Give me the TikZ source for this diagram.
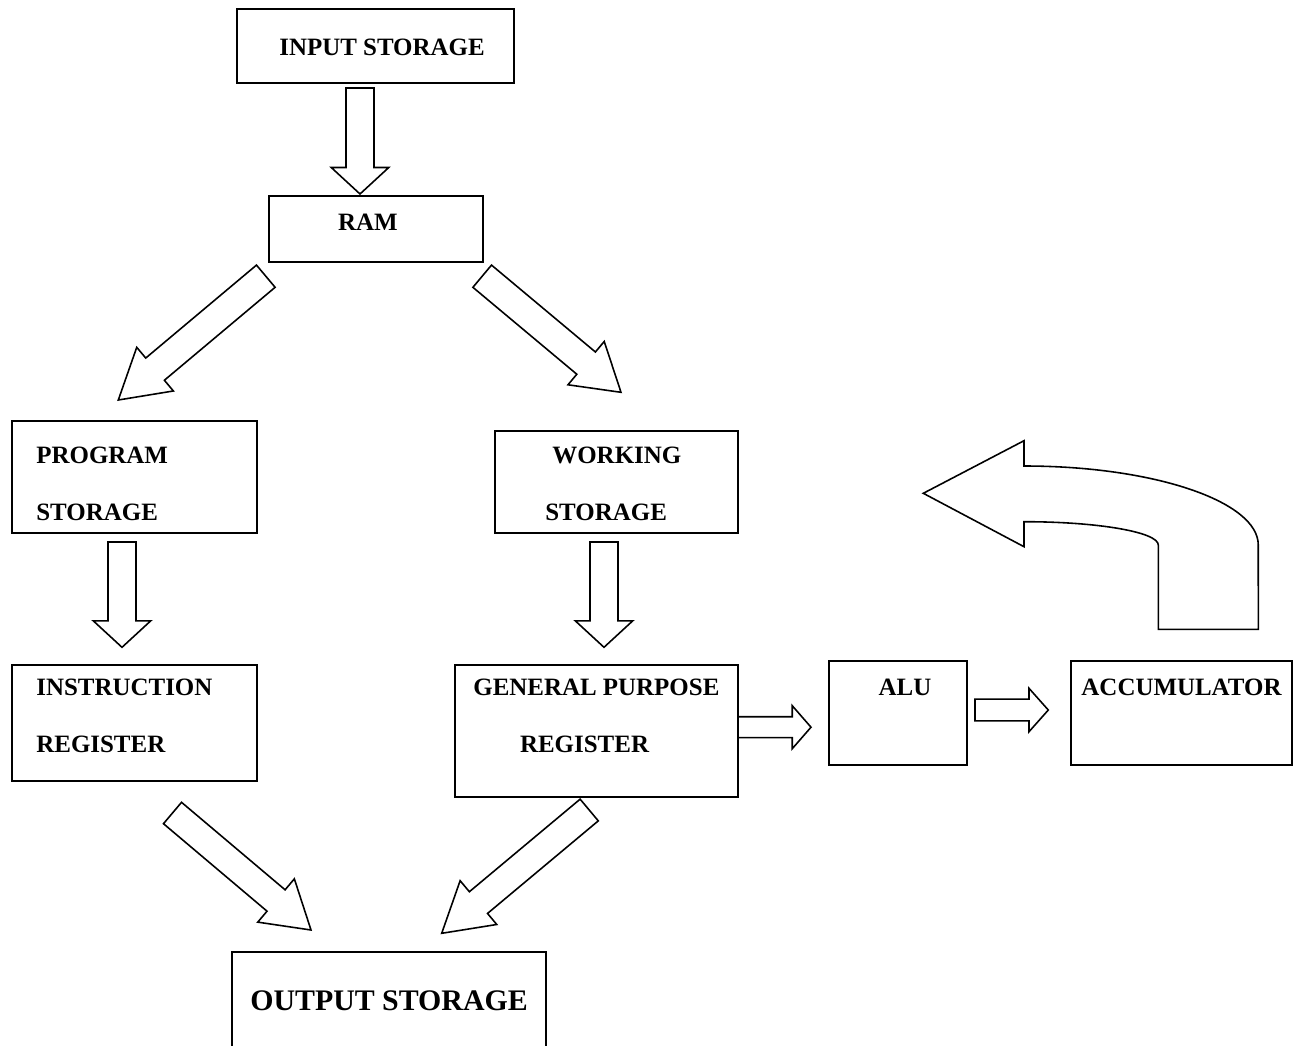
\documentclass[tikz,border=0pt]{standalone}
\usepackage{fontspec}
\setmainfont{Liberation Serif}
\usetikzlibrary{calc}
\tikzstyle{box}=[draw,line width=1pt,inner sep=0pt]
\tikzstyle{lbl}=[inner sep=0pt,font=\fontsize{14.2}{32.3}\selectfont\bfseries]
\tikzstyle{barrow}=[draw,line width=0.9pt,line join=miter,fill=white]
% block arrow: tail, tip, half shaft, half head, head length
\newcommand{\blockarrow}[5]{%
  \coordinate (hb) at ($(#2)!#5!(#1)$);
  \draw[barrow] ($(#1)!#3!90:(#2)$) -- ($(hb)!#3!90:(#2)$) -- ($(hb)!#4!90:(#2)$) -- (#2)
    -- ($(hb)!#4!-90:(#2)$) -- ($(hb)!#3!-90:(#2)$) -- ($(#1)!#3!-90:(#2)$) -- cycle;
}

\begin{document}
\begin{tikzpicture}[x=0.02cm,y=-0.02cm]
\useasboundingbox (0,0) rectangle (1295,1045);
% boxes
\node[box,minimum width=5.54cm,minimum height=1.48cm] (inp) at (375.5,46) {};
\node[box,minimum width=4.28cm,minimum height=1.32cm] (ram) at (376,229) {};
\node[box,minimum width=4.9cm,minimum height=2.24cm] (prog) at (134.5,477) {};
\node[box,minimum width=4.86cm,minimum height=2.04cm] (work) at (616.5,482) {};
\node[box,minimum width=4.9cm,minimum height=2.32cm] (instr) at (134.5,723) {};
\node[box,minimum width=5.66cm,minimum height=2.64cm] (gpr) at (596.5,731) {};
\node[box,minimum width=2.76cm,minimum height=2.08cm] (alu) at (898,713) {};
\node[box,minimum width=4.42cm,minimum height=2.08cm] (acc) at (1181.5,713) {};
\node[box,minimum width=6.28cm,minimum height=2.2cm,anchor=north] (out) at (389,951) {};
% texts
\node[lbl] (inp-t) at (382,47) {INPUT STORAGE};
\node[lbl] (ram-t) at (368,222) {RAM};
\node[lbl,anchor=west,align=left] (prog-t) at (36,483.5) {PROGRAM\\STORAGE};
\node[lbl,anchor=west,align=left] (work-t) at (545,483.5) {\hspace*{4pt}WORKING\\STORAGE};
\node[lbl,anchor=west,align=left] (instr-t) at (36,716) {INSTRUCTION\\REGISTER};
\node[lbl,anchor=west,align=left] (gpr-t) at (473,716) {GENERAL PURPOSE\\\hspace*{26.6pt}REGISTER};
\node[lbl] (alu-t) at (905,687) {ALU};
\node[lbl] (acc-t) at (1181.5,687) {ACCUMULATOR};
\node[lbl,font=\fontsize{17}{20}\selectfont\bfseries] (out-t) at (389,1001) {OUTPUT STORAGE};
% arrow ends
\coordinate (inp-s) at (360,88);      \coordinate (ram-n) at (360,194);
\coordinate (ram-sw) at (265.8,276.2); \coordinate (prog-n) at (118.3,400);
\coordinate (ram-se) at (482.2,276.2); \coordinate (work-n) at (621,392.3);
\coordinate (prog-s) at (122,542);    \coordinate (instr-n) at (122,647.3);
\coordinate (work-s) at (604,542);    \coordinate (gpr-n) at (604,647.3);
\coordinate (instr-s) at (172.5,813); \coordinate (out-nw) at (311,930);
\coordinate (gpr-s) at (589.2,810);   \coordinate (out-ne) at (441.7,933.3);
\coordinate (gpr-e) at (738,727.2);   \coordinate (alu-w) at (811,727.2);
\coordinate (alu-e) at (975,710);     \coordinate (acc-w) at (1048.3,710);
% straight block arrows
\foreach \s/\e in {inp-s/ram-n,prog-s/instr-n,work-s/gpr-n}
  \blockarrow{\s}{\e}{0.28cm}{0.575cm}{0.53cm};
\blockarrow{ram-sw}{prog-n}{0.29cm}{0.57cm}{0.96cm}
\blockarrow{ram-se}{work-n}{0.29cm}{0.565cm}{0.91cm}
\blockarrow{instr-s}{out-nw}{0.28cm}{0.567cm}{0.915cm}
\blockarrow{gpr-s}{out-ne}{0.283cm}{0.571cm}{0.958cm}
\blockarrow{gpr-e}{alu-w}{0.21cm}{0.43cm}{0.375cm}
\blockarrow{alu-e}{acc-w}{0.217cm}{0.434cm}{0.386cm}
% curved arrow
\coordinate (acc-up) at (1258.3,629.3);
\coordinate (loop-tip) at (923.3,493.3);
\draw[barrow] (loop-tip) -- (1024,440.7) -- (1024,466)
  arc[start angle=90,end angle=0,x radius=4.686cm,y radius=1.58cm]
  -- (acc-up) -- (1158.3,629.3) -- (1158.3,545)
  arc[start angle=0,end angle=90,x radius=2.686cm,y radius=0.466cm]
  -- (1024,546.7) -- cycle;
\end{tikzpicture}
\end{document}
